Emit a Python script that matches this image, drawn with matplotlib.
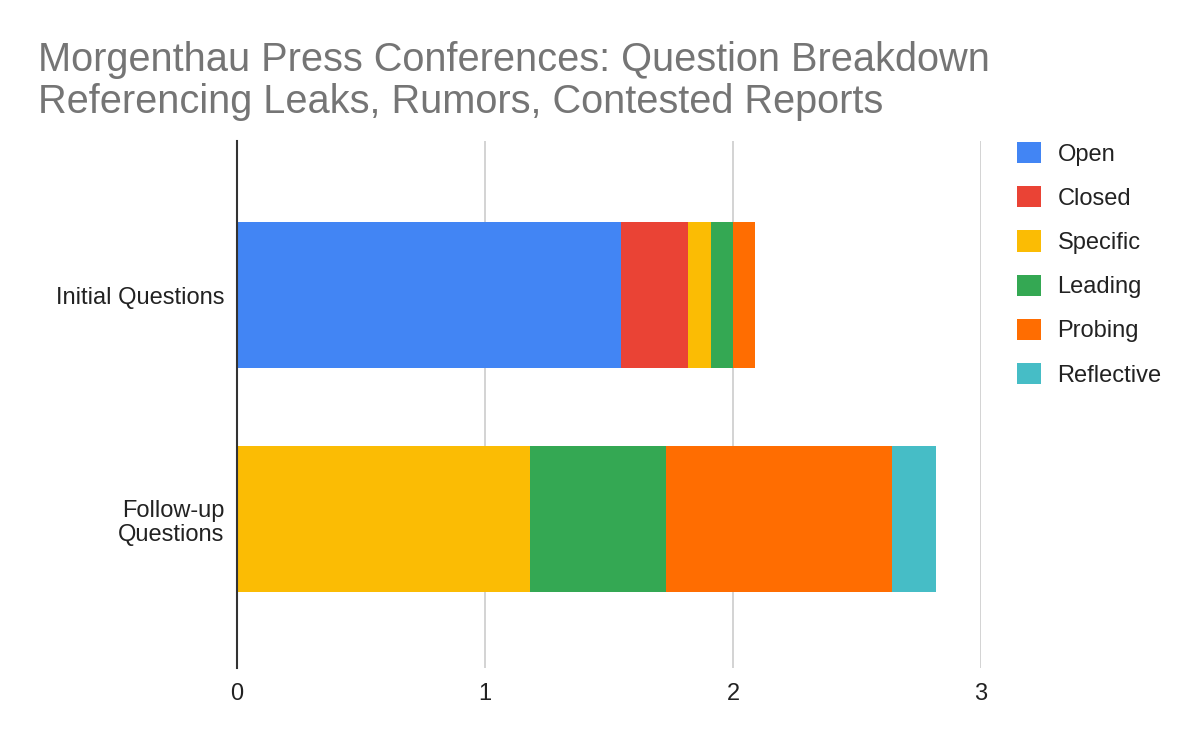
import matplotlib
matplotlib.use("Agg")
import matplotlib.pyplot as plt
import numpy as np

categories = ["Initial Questions", "Follow-up\nQuestions"]
series_names = ["Open", "Closed", "Specific", "Leading", "Probing", "Reflective"]
open_vals = [1.55, 0.0]
closed_vals = [0.27, 0.0]
specific_vals = [0.09, 1.18]
leading_vals = [0.09, 0.55]
probing_vals = [0.09, 0.91]
reflective_vals = [0.0, 0.18]
x_ticks = [0, 1, 2, 3]
title = "Morgenthau Press Conferences: Question Breakdown\nReferencing Leaks, Rumors, Contested Reports"

colors = ["#4285F4", "#EA4335", "#FBBC04", "#34A853", "#FF6D01", "#46BDC6"]
series = [open_vals, closed_vals, specific_vals, leading_vals, probing_vals, reflective_vals]

plt.rcParams["font.family"] = ["Liberation Sans", "DejaVu Sans"]

fig = plt.figure(figsize=(12, 7.42), dpi=100)
ax = fig.add_axes([237 / 1200, 74 / 742, 744 / 1200, 527 / 742])

y = np.arange(len(categories))
left = np.zeros(len(categories))
handles = []
for name, vals, c in zip(series_names, series, colors):
    vals = np.array(vals, dtype=float)
    h = ax.barh(y, vals, left=left, height=0.652, color=c, label=name, zorder=3)
    handles.append(h)
    left += vals

ax.set_xlim(0, 3)
ax.set_ylim(1.665, -0.6875)
ax.set_xticks(x_ticks)
ax.set_xticklabels([str(t) for t in x_ticks])
ax.set_yticks(y)
ax.set_yticklabels(categories, multialignment="right", linespacing=1.15)
ax.tick_params(axis="both", length=0, labelsize=17, colors="#222222")
ax.tick_params(axis="x", pad=11)
ax.tick_params(axis="y", pad=9)

for s in ["top", "right", "bottom"]:
    ax.spines[s].set_visible(False)
ax.spines["left"].set_color("#333333")
ax.spines["left"].set_linewidth(1.5)
ax.spines["left"].set_zorder(4)

ax.grid(axis="x", color="#cccccc", linewidth=1.2, zorder=0)
ax.grid(axis="y", visible=False)
ax.set_axisbelow(True)

fig.text(38 / 1200, 1 - 41 / 742, title, fontsize=28.6, color="#757575",
         ha="left", va="top", linespacing=1.12)

leg = fig.legend(handles=handles, labels=series_names, loc="upper left",
                 bbox_to_anchor=(1017 / 1200, 1 - 142 / 742), frameon=False,
                 fontsize=17, handlelength=1.0, handleheight=1.0,
                 handletextpad=0.72, labelspacing=0.87, borderpad=0,
                 borderaxespad=0)
for t in leg.get_texts():
    t.set_color("#222222")

fig.savefig("out.png", dpi=100)
